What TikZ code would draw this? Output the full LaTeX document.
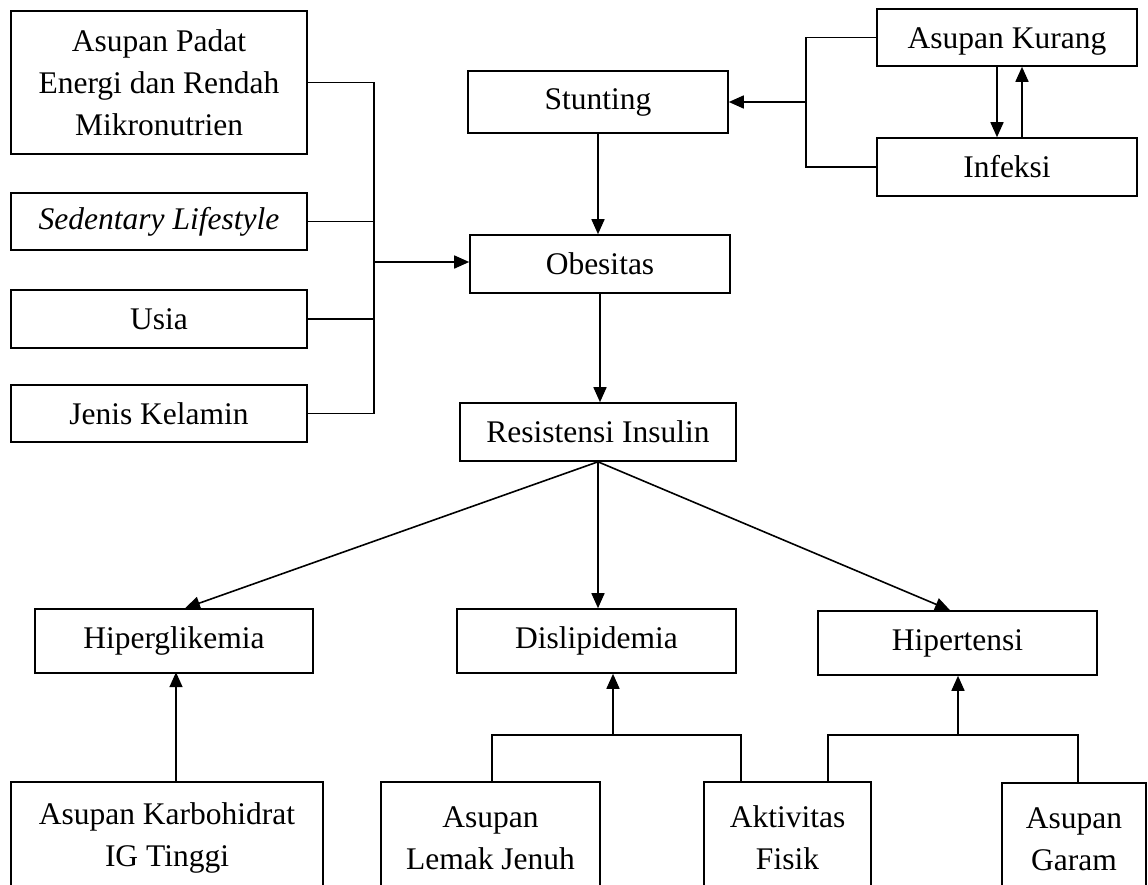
\documentclass[tikz,border=0pt]{standalone}
\usepackage{fontspec}
\setmainfont{Liberation Serif}
\usetikzlibrary{arrows.meta,calc}
\newcommand{\fsz}{\fontsize{31.5}{42}\selectfont}
\begin{document}
\begin{tikzpicture}[x=1pt,y=-1pt,
  box/.style={draw, line width=1.6pt, inner sep=0pt, align=center, font=\fsz},
  conn/.style={line width=1.6pt},
  arr/.style={line width=1.6pt, -{Triangle[length=15pt,width=13pt]}}]
\useasboundingbox (0,0) rectangle (1148,884);
\clip (0,0) rectangle (1148,884);
\fill[white] (0,0) rectangle (1148,884);
% left column
\node[box, minimum width=296pt, minimum height=143pt] (a1) at (159,82.5) {Asupan Padat\\Energi dan Rendah\\Mikronutrien};
\node[box, minimum width=296pt, minimum height=57pt] (sed) at (159,221.5) {\textit{Sedentary Lifestyle}};
\node[box, minimum width=296pt, minimum height=58pt] (us) at (159,319) {Usia};
\node[box, minimum width=296pt, minimum height=57pt] (jk) at (159,413.5) {Jenis Kelamin};
% centre column
\node[box, minimum width=260pt, minimum height=62pt] (st) at (598,102) {Stunting};
\node[box, minimum width=260pt, minimum height=58pt] (ob) at (600,264) {Obesitas};
\node[box, minimum width=276pt, minimum height=58pt] (ri) at (598,432) {Resistensi Insulin};
% right top
\node[box, minimum width=260pt, minimum height=57pt, text height=24pt, text depth=2pt] (ak) at (1007,37.5) {Asupan Kurang};
\node[box, minimum width=260pt, minimum height=58pt] (inf) at (1007,167) {Infeksi};
% outcomes
\node[box, minimum width=278pt, minimum height=64pt] (hg) at (174,641) {Hiperglikemia};
\node[box, minimum width=279pt, minimum height=64pt] (ds) at (596.5,641) {Dislipidemia};
\node[box, minimum width=279pt, minimum height=64pt] (ht) at (957.5,643) {Hipertensi};
% bottom
\node[box, minimum width=312pt, minimum height=112pt] (kh) at (167,838) {Asupan Karbohidrat\\IG Tinggi};
\node[box, minimum width=219pt, minimum height=112pt] (lj) at (490.5,838) {Asupan\\Lemak Jenuh};
\node[box, minimum width=167pt, minimum height=112pt] (af) at (787.5,838) {Aktivitas\\Fisik};
\node[box, minimum width=144pt, minimum height=112pt] (ga) at (1074,839) {Asupan\\Garam};
% bus coordinates
\coordinate (lb) at (374,0);
\coordinate (rb) at (806,0);
\coordinate (db) at (613,735);
\coordinate (hb) at (958,735);
% left bus
\draw[conn] (a1.east) -- (a1.east -| lb) |- (jk.east);
\draw[conn] (sed.east) -- (sed.east -| lb);
\draw[conn] (us.east) -- (us.east -| lb);
\draw[arr] ([yshift=2pt]ob.west -| lb) -- ([yshift=2pt]ob.west);
% right bus
\draw[conn] (ak.west) -- (ak.west -| rb) |- (inf.west);
\draw[arr] (st.east -| rb) -- (st.east);
\draw[arr] ([xshift=-10pt]ak.south) -- ([xshift=-10pt]inf.north);
\draw[arr] ([xshift=15pt]inf.north) -- ([xshift=15pt]ak.south);
% vertical chain
\draw[arr] (st.south) -- (st.south |- ob.north);
\draw[arr] (ob.south) -- (ob.south |- ri.north);
% fan
\draw[arr] (ri.south) -- ([xshift=11pt]hg.north);
\draw[arr] (ri.south) -- (ri.south |- ds.north);
\draw[arr] (ri.south) -- ([xshift=-7.5pt]ht.north);
% bottom connectors
\draw[arr] ([xshift=9pt]kh.north) -- ++(0,-109);
\draw[conn] ([xshift=1.5pt]lj.north) |- (db) -| ([xshift=-46.5pt]af.north);
\draw[arr] (db) -- (db |- ds.south);
\draw[conn] ([xshift=40.5pt]af.north) |- (hb) -| ([xshift=4pt]ga.north);
\draw[arr] (hb) -- (hb |- ht.south);
\end{tikzpicture}
\end{document}
